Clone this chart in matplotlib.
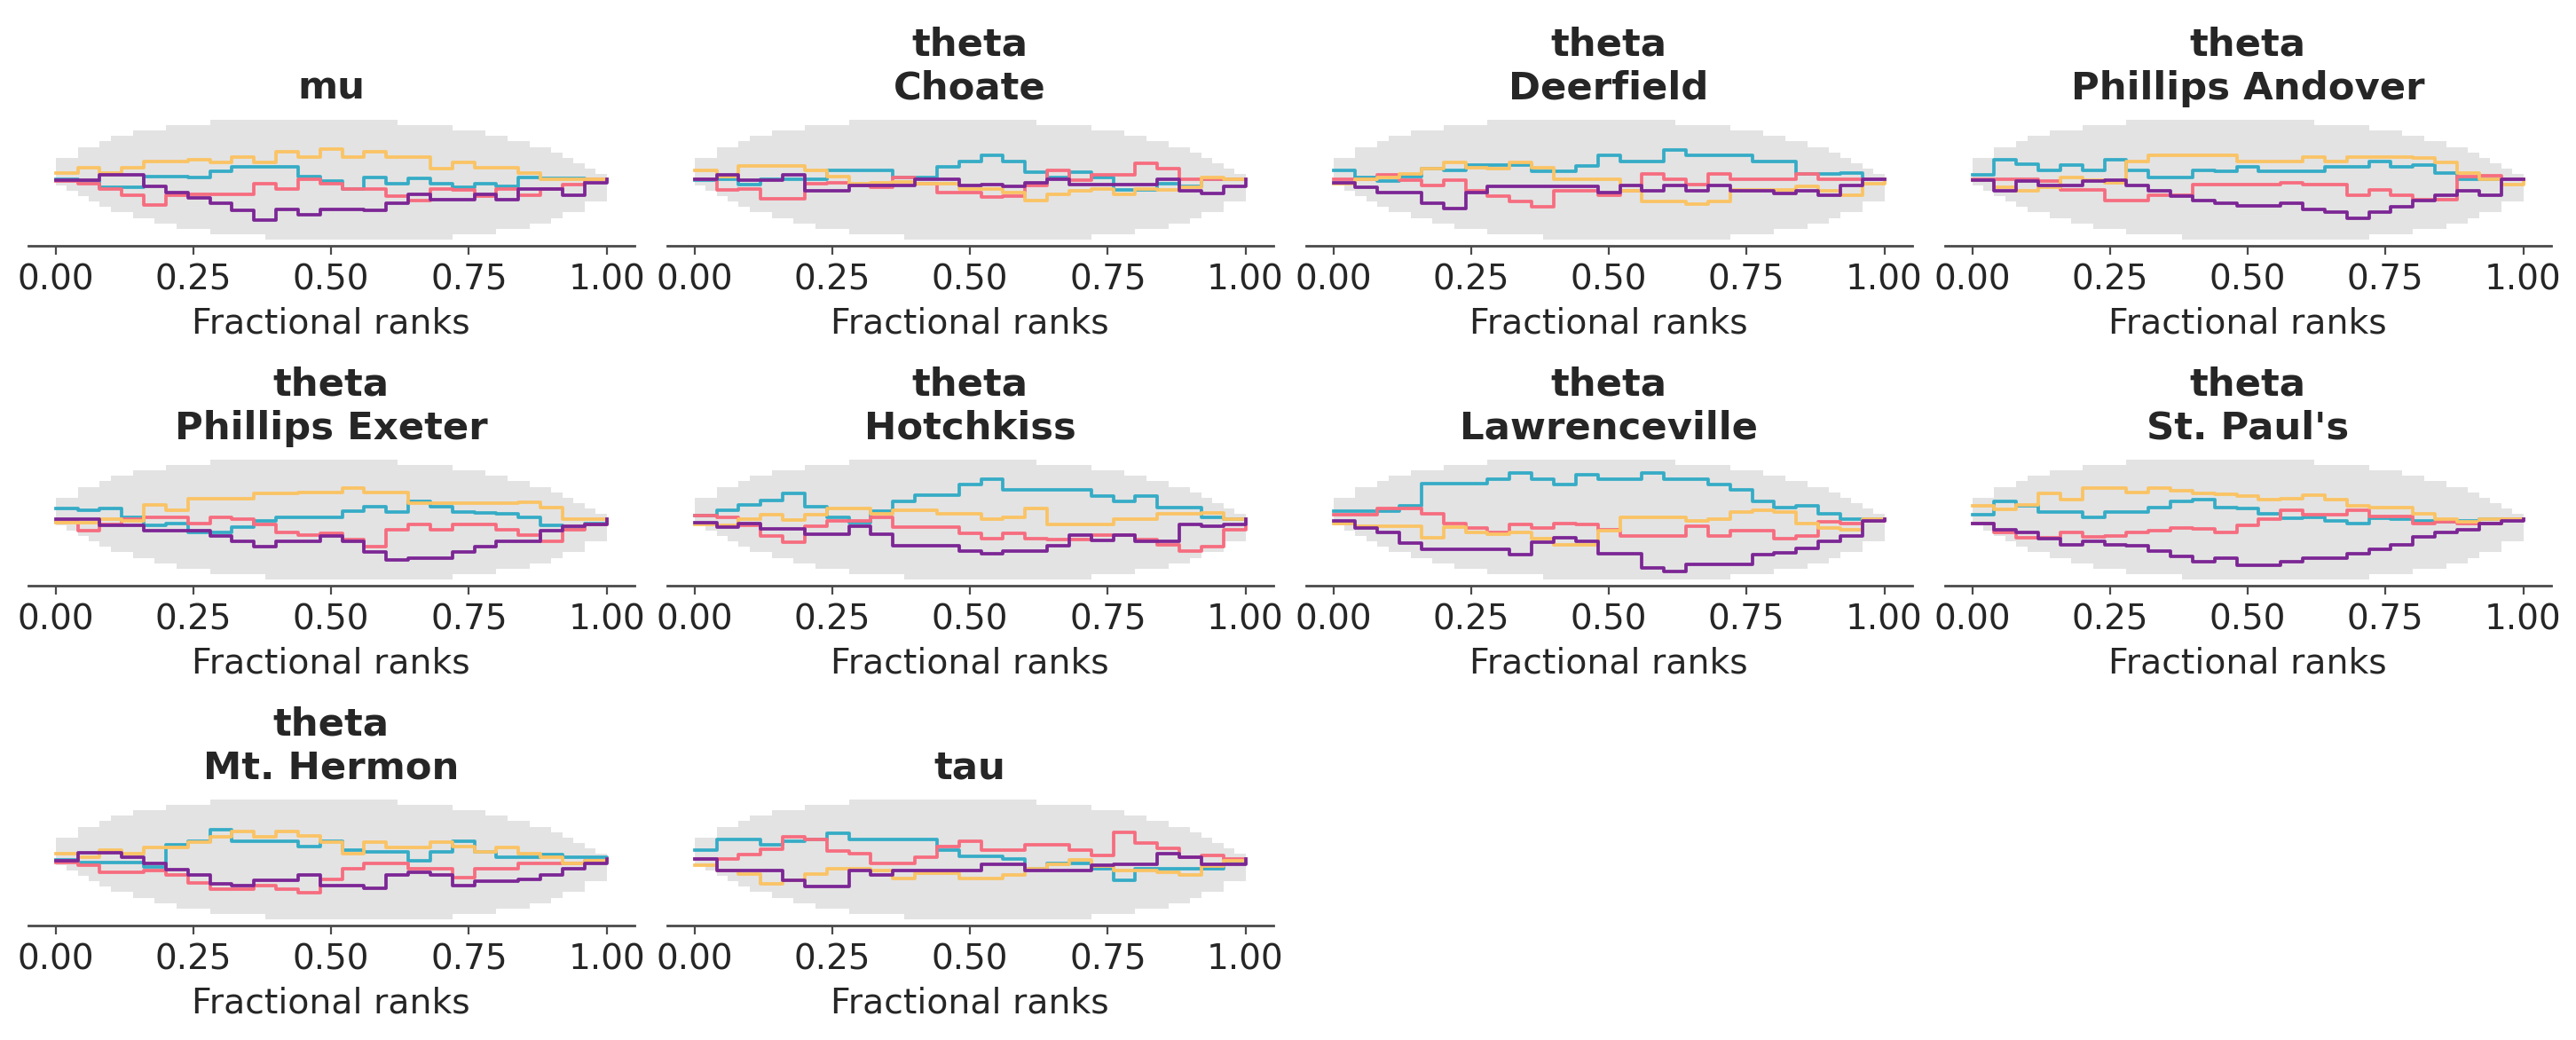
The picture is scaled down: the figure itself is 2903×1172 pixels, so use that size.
import numpy as np
import matplotlib
matplotlib.use("Agg")
import matplotlib.pyplot as plt

# chain order in every panel: teal, pink, yellow, purple
# values = ECDF difference of the fractional ranks, one value per 0.04 step
mu_chains = [
    [0.001, -0.003, -0.013, -0.013, 0.005, 0.005, 0.004, 0.014, 0.021, 0.021, 0.021, 0.005, -0.003, -0.016, 0.004, -0.006, 0.002, -0.006, -0.013, -0.006, -0.011, 0.004, 0.002, 0.002, 0.0],
    [-0.003, -0.007, -0.016, -0.026, -0.043, -0.026, -0.025, -0.025, -0.025, -0.007, -0.016, 0.001, -0.007, -0.016, -0.016, -0.027, -0.035, -0.016, -0.017, -0.027, -0.016, -0.026, -0.016, -0.008, 0.0],
    [0.011, 0.020, 0.011, 0.020, 0.030, 0.030, 0.033, 0.029, 0.037, 0.029, 0.046, 0.037, 0.051, 0.037, 0.046, 0.037, 0.037, 0.019, 0.029, 0.020, 0.020, 0.011, 0.001, 0.001, 0.0],
    [-0.001, -0.001, 0.008, 0.008, -0.011, -0.021, -0.030, -0.039, -0.051, -0.067, -0.050, -0.059, -0.050, -0.050, -0.051, -0.040, -0.025, -0.033, -0.033, -0.025, -0.034, -0.016, -0.016, -0.026, -0.005],
]
choate_chains = [
    [-0.001, 0.0, -0.008, 0.0, 0.0, 0.0, 0.015, 0.015, 0.015, 0.004, 0.004, 0.022, 0.031, 0.041, 0.031, 0.013, 0.003, 0.013, 0.004, -0.017, -0.017, -0.007, -0.011, 0.0, 0.0],
    [0.0, -0.017, -0.015, -0.032, -0.032, -0.007, -0.005, -0.010, -0.013, 0.003, -0.006, -0.022, -0.022, -0.029, -0.027, -0.010, 0.016, -0.001, 0.008, 0.008, 0.028, 0.018, 0.001, 0.0, 0.0],
    [0.015, 0.005, 0.023, 0.023, 0.023, 0.015, 0.005, -0.006, -0.005, -0.004, -0.007, -0.007, -0.015, -0.016, -0.021, -0.035, -0.025, -0.018, -0.016, -0.025, -0.016, -0.017, -0.013, 0.003, 0.0],
    [0.0, 0.008, -0.001, -0.001, 0.008, -0.019, -0.019, -0.010, -0.010, -0.010, 0.0, 0.0, -0.010, -0.008, -0.011, -0.005, 0.0, -0.008, -0.008, -0.008, -0.008, 0.0, -0.018, -0.023, -0.011],
]
deerfield_chains = [
    [0.016, 0.004, -0.003, 0.005, 0.019, 0.015, 0.024, 0.024, 0.024, 0.014, 0.014, 0.023, 0.040, 0.031, 0.031, 0.049, 0.040, 0.040, 0.040, 0.030, 0.030, 0.010, 0.010, 0.011, 0.0],
    [0.0, 0.0, 0.008, -0.001, -0.010, -0.001, -0.018, -0.027, -0.036, -0.045, -0.018, -0.018, -0.026, -0.018, 0.009, 0.0, -0.008, 0.009, 0.0, 0.0, 0.0, 0.009, 0.0, 0.0, 0.0],
    [-0.007, 0.001, 0.004, 0.010, 0.019, 0.029, 0.020, 0.019, 0.029, 0.020, 0.001, 0.001, 0.001, -0.018, -0.036, -0.036, -0.041, -0.036, -0.017, -0.017, -0.017, -0.011, -0.018, -0.026, -0.006],
    [-0.005, -0.012, -0.022, -0.022, -0.040, -0.048, -0.021, -0.011, -0.011, -0.011, -0.011, -0.011, -0.021, -0.010, -0.019, -0.010, -0.019, -0.010, -0.019, -0.019, -0.023, -0.018, -0.026, -0.010, 0.0],
]
andover_chains = [
    [0.008, 0.033, 0.026, 0.015, 0.025, 0.015, 0.033, 0.015, 0.004, 0.004, 0.015, 0.014, 0.022, 0.014, 0.014, 0.014, 0.021, 0.021, 0.031, 0.021, 0.024, 0.011, 0.001, 0.001, 0.0],
    [0.0, 0.0, 0.0, -0.003, -0.017, -0.017, -0.035, -0.035, -0.026, -0.026, -0.008, -0.008, -0.008, -0.008, -0.005, -0.008, -0.008, -0.026, -0.017, -0.026, -0.034, -0.033, 0.005, 0.006, 0.0],
    [-0.001, -0.013, -0.018, -0.013, 0.004, -0.001, -0.005, 0.031, 0.041, 0.041, 0.041, 0.041, 0.031, 0.031, 0.031, 0.038, 0.030, 0.038, 0.038, 0.038, 0.036, 0.029, 0.011, 0.001, -0.008],
    [-0.001, -0.018, -0.002, -0.010, -0.010, -0.002, -0.001, -0.010, -0.018, -0.027, -0.035, -0.040, -0.044, -0.044, -0.040, -0.050, -0.054, -0.064, -0.054, -0.045, -0.035, -0.026, -0.018, -0.026, 0.0],
]
exeter_chains = [
    [0.018, 0.016, 0.018, 0.004, -0.010, -0.006, -0.022, -0.022, -0.012, -0.003, 0.004, 0.004, 0.004, 0.014, 0.022, 0.013, 0.030, 0.021, 0.013, 0.011, 0.010, 0.004, -0.010, -0.015, -0.006],
    [-0.004, -0.018, -0.008, 0.0, 0.004, 0.004, -0.006, 0.004, 0.0, -0.008, -0.021, -0.026, -0.023, -0.033, -0.045, -0.017, -0.008, -0.017, -0.008, -0.008, -0.017, -0.026, -0.036, -0.017, -0.008],
    [-0.005, -0.005, 0.001, -0.003, 0.024, 0.016, 0.035, 0.035, 0.035, 0.044, 0.044, 0.045, 0.045, 0.053, 0.045, 0.045, 0.028, 0.028, 0.028, 0.028, 0.027, 0.029, 0.020, 0.001, 0.0],
    [0.0, 0.0, -0.010, -0.010, -0.018, -0.018, -0.018, -0.027, -0.037, -0.045, -0.037, -0.037, -0.028, -0.037, -0.054, -0.068, -0.064, -0.064, -0.054, -0.045, -0.036, -0.036, -0.018, -0.011, -0.008],
]
hotchkiss_chains = [
    [0.006, 0.015, 0.024, 0.032, 0.044, 0.022, 0.004, -0.005, 0.014, 0.031, 0.040, 0.041, 0.058, 0.067, 0.049, 0.049, 0.049, 0.049, 0.039, 0.030, 0.039, 0.020, 0.020, 0.003, 0.0],
    [0.007, 0.004, -0.010, -0.028, -0.038, -0.011, -0.002, -0.002, 0.004, -0.012, -0.012, -0.012, -0.023, -0.032, -0.023, -0.032, -0.034, -0.033, -0.026, -0.026, -0.033, -0.043, -0.053, -0.045, -0.017],
    [-0.008, -0.010, 0.0, 0.008, -0.001, 0.008, 0.018, 0.018, 0.009, 0.016, 0.016, 0.009, 0.009, 0.0, 0.004, 0.018, -0.008, -0.008, -0.008, 0.0, 0.0, 0.009, 0.009, 0.011, 0.0],
    [-0.005, -0.013, -0.007, -0.016, -0.016, -0.025, -0.025, -0.011, -0.025, -0.044, -0.044, -0.044, -0.053, -0.057, -0.053, -0.053, -0.044, -0.026, -0.035, -0.026, -0.036, -0.036, -0.008, -0.011, -0.008],
]
lawrenceville_chains = [
    [0.014, 0.014, 0.014, 0.023, 0.060, 0.060, 0.060, 0.068, 0.077, 0.068, 0.058, 0.075, 0.067, 0.067, 0.077, 0.067, 0.067, 0.058, 0.049, 0.031, 0.020, 0.023, 0.010, 0.0, 0.0],
    [0.008, 0.008, 0.019, 0.019, 0.010, -0.007, -0.014, -0.022, -0.008, -0.014, -0.007, -0.008, -0.017, -0.027, -0.027, -0.027, -0.011, -0.027, -0.018, -0.018, -0.032, -0.027, -0.004, -0.007, -0.002],
    [-0.006, -0.011, -0.011, -0.011, -0.031, -0.012, -0.021, -0.024, -0.021, -0.032, -0.042, -0.042, -0.019, 0.004, 0.004, 0.003, -0.002, 0.001, 0.012, 0.015, 0.012, -0.007, -0.014, -0.017, 0.0],
    [-0.003, -0.014, -0.022, -0.039, -0.049, -0.049, -0.049, -0.049, -0.059, -0.038, -0.031, -0.037, -0.057, -0.057, -0.081, -0.086, -0.075, -0.075, -0.075, -0.059, -0.056, -0.048, -0.037, -0.028, -0.002],
]
stpauls_chains = [
    [0.008, 0.030, 0.023, 0.013, 0.013, 0.004, 0.013, 0.013, 0.020, 0.030, 0.033, 0.020, 0.019, 0.010, 0.002, 0.003, -0.002, -0.007, 0.002, 0.0, -0.003, -0.004, -0.002, 0.0, 0.0],
    [-0.007, -0.022, -0.031, -0.031, -0.022, -0.029, -0.027, -0.021, -0.018, -0.014, -0.016, -0.022, -0.009, 0.0, 0.015, 0.008, 0.008, 0.015, 0.005, 0.005, -0.007, -0.004, -0.007, -0.007, 0.0],
    [0.023, 0.017, 0.025, 0.044, 0.034, 0.053, 0.053, 0.045, 0.052, 0.048, 0.043, 0.042, 0.039, 0.033, 0.035, 0.040, 0.033, 0.023, 0.020, 0.020, 0.010, 0.0, -0.004, 0.0, 0.0],
    [-0.006, -0.017, -0.022, -0.032, -0.042, -0.037, -0.042, -0.044, -0.052, -0.062, -0.071, -0.064, -0.076, -0.076, -0.071, -0.064, -0.064, -0.057, -0.049, -0.042, -0.029, -0.022, -0.017, -0.007, -0.002],
]
hermon_chains = [
    [-0.001, -0.005, -0.005, -0.005, -0.012, 0.024, 0.031, 0.049, 0.031, 0.031, 0.031, 0.022, 0.030, 0.016, 0.013, 0.013, -0.002, 0.013, 0.030, 0.013, 0.003, 0.003, 0.008, 0.003, 0.003],
    [-0.005, -0.010, -0.021, -0.021, -0.018, -0.026, -0.040, -0.050, -0.050, -0.043, -0.050, -0.055, -0.033, -0.016, -0.007, -0.007, -0.016, -0.016, -0.031, -0.016, -0.016, -0.007, -0.007, -0.007, -0.003],
    [0.010, 0.003, 0.015, 0.010, 0.020, 0.020, 0.029, 0.038, 0.046, 0.038, 0.046, 0.039, 0.029, 0.010, 0.029, 0.020, 0.020, 0.029, 0.021, 0.013, 0.020, 0.010, 0.003, -0.007, -0.003],
    [-0.003, 0.011, 0.011, 0.003, -0.007, -0.017, -0.026, -0.041, -0.043, -0.035, -0.035, -0.026, -0.043, -0.043, -0.048, -0.026, -0.021, -0.026, -0.043, -0.036, -0.036, -0.033, -0.026, -0.016, -0.006],
]
tau_chains = [
    [0.016, 0.034, 0.034, 0.025, 0.031, 0.034, 0.044, 0.033, 0.033, 0.033, 0.033, 0.015, 0.005, 0.005, 0.001, -0.016, -0.007, -0.007, -0.016, -0.035, -0.015, -0.015, -0.015, -0.015, -0.006],
    [0.0, 0.0, 0.008, 0.017, 0.038, 0.033, 0.014, 0.010, -0.007, -0.007, 0.004, 0.022, 0.031, 0.015, 0.016, 0.024, 0.024, 0.016, 0.006, 0.045, 0.028, 0.019, 0.004, 0.006, 0.0],
    [-0.010, -0.018, -0.025, -0.041, -0.035, -0.025, -0.016, -0.016, -0.018, -0.032, -0.023, -0.023, -0.032, -0.032, -0.026, -0.016, -0.008, -0.001, -0.011, -0.018, -0.018, -0.021, -0.026, -0.011, -0.003],
    [0.001, -0.018, -0.018, -0.018, -0.035, -0.045, -0.045, -0.018, -0.026, -0.018, -0.018, -0.018, -0.018, -0.008, -0.008, -0.018, -0.018, -0.018, -0.010, -0.008, -0.008, 0.010, 0.003, -0.008, -0.008],
]

# simultaneous envelope, one value per 0.02 step
env_upper = [0.036, 0.036, 0.054, 0.054, 0.064, 0.073, 0.073, 0.082, 0.082, 0.082,
             0.091, 0.091, 0.091, 0.091, 0.100, 0.100, 0.100, 0.100, 0.100, 0.100,
             0.100, 0.100, 0.100, 0.100, 0.100, 0.100, 0.100, 0.100, 0.100, 0.100,
             0.100, 0.091, 0.091, 0.091, 0.091, 0.091, 0.082, 0.082, 0.082, 0.073,
             0.073, 0.064, 0.064, 0.054, 0.054, 0.045, 0.036, 0.027, 0.018, 0.009]
env_lower = [-0.009, -0.018, -0.027, -0.036, -0.045, -0.054, -0.054, -0.064, -0.064, -0.073,
             -0.073, -0.082, -0.082, -0.082, -0.091, -0.091, -0.091, -0.091, -0.091, -0.100,
             -0.100, -0.100, -0.100, -0.100, -0.100, -0.100, -0.100, -0.100, -0.100, -0.100,
             -0.100, -0.100, -0.100, -0.100, -0.100, -0.100, -0.091, -0.091, -0.091, -0.091,
             -0.082, -0.082, -0.082, -0.073, -0.073, -0.064, -0.054, -0.054, -0.036, -0.036]

titles = ["mu", "theta\nChoate", "theta\nDeerfield", "theta\nPhillips Andover",
          "theta\nPhillips Exeter", "theta\nHotchkiss", "theta\nLawrenceville",
          "theta\nSt. Paul's", "theta\nMt. Hermon", "tau"]
panels = [mu_chains, choate_chains, deerfield_chains, andover_chains, exeter_chains,
          hotchkiss_chains, lawrenceville_chains, stpauls_chains, hermon_chains, tau_chains]
colors = ["#36acc6", "#f66d7f", "#fac364", "#7c2695"]

env_x = np.linspace(0, 1, len(env_upper) + 1)
rank_x = np.linspace(0, 1, len(mu_chains[0]) + 1)

fig, axes = plt.subplots(3, 4, figsize=(14.515, 5.86), dpi=200)
fig.subplots_adjust(left=0.0109, right=0.9902, top=0.8906, bottom=0.1103,
                    wspace=0.0542, hspace=1.579)

for ax, title, chains in zip(axes.flat, titles, panels):
    ax.fill_between(env_x, env_lower + [env_lower[-1]], env_upper + [env_upper[-1]],
                    step="post", color="#e3e3e3", linewidth=0)
    for col, vals in zip(colors, chains):
        ax.plot(rank_x, vals + [0.0], drawstyle="steps-post", color=col, lw=1.35)
    ax.set_title(title, fontsize=15.6, fontweight="bold", color="#262626")
    ax.set_xlabel("Fractional ranks", fontsize=14.2, color="#262626")
    ax.set_yticks([])
    for s in ["left", "right", "top"]:
        ax.spines[s].set_visible(False)
    ax.spines["bottom"].set_color("#4a4a4a")
    ax.spines["bottom"].set_linewidth(1.0)
    ax.set_xticks([0, 0.25, 0.5, 0.75, 1.0])
    ax.xaxis.set_major_formatter("{x:.2f}")
    ax.tick_params(axis="x", labelsize=14, color="#4a4a4a", labelcolor="#262626")

for ax in axes.flat[len(panels):]:
    ax.remove()

fig.savefig("out.png", dpi=200)
